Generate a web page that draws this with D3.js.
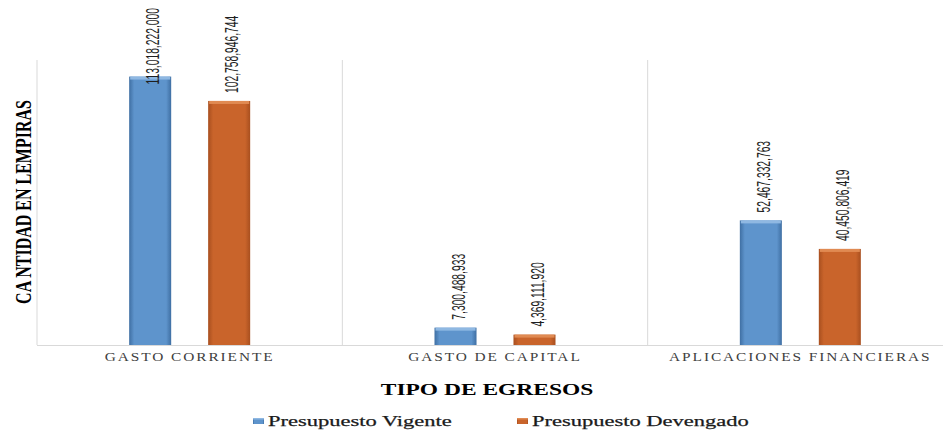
<!DOCTYPE html>
<html>
<head>
<meta charset="utf-8">
<script src="https://cdn.jsdelivr.net/npm/d3@7"></script>
<style>
  body { margin: 0; background: #fff; }
  svg { display: block; }
</style>
</head>
<body>
<script>
// data
let categories = ['GASTO CORRIENTE', 'GASTO DE CAPITAL', 'APLICACIONES FINANCIERAS']
let series = ['Presupuesto Vigente', 'Presupuesto Devengado']
let vigente = [113018222000, 7300488933, 52467332763]
let devengado = [102758946744, 4369111920, 40450806419]

let colors = {
  'Presupuesto Vigente': ['#3f6fa3', '#5e94cc', '#8fb8e2'],
  'Presupuesto Devengado': ['#a84f1f', '#c9642b', '#e08a52']
}

let width = 943, height = 432
let plotLeft = 37, plotBase = 345, plotTop = 60

let svg = d3.select('body').append('svg')
  .attr('width', width)
  .attr('height', height)

let defs = svg.append('defs')
series.forEach((s, i) => {
  let c = colors[s]
  let g = defs.append('linearGradient').attr('id', 'g' + i)
    .attr('x1', 0).attr('x2', 1).attr('y1', 0).attr('y2', 0)
  g.append('stop').attr('offset', '0%').attr('stop-color', c[0])
  g.append('stop').attr('offset', '12%').attr('stop-color', c[1])
  g.append('stop').attr('offset', '88%').attr('stop-color', c[1])
  g.append('stop').attr('offset', '100%').attr('stop-color', c[0])
})

let x0 = d3.scaleBand().domain(categories).range([plotLeft, 953])
let groupW = 121
let x1 = d3.scaleBand().domain(series)
  .range([(x0.bandwidth() - groupW) / 2, (x0.bandwidth() + groupW) / 2])
  .paddingInner(0.468)
let y = d3.scaleLinear().domain([0, 120e9]).range([plotBase, plotTop])

// stretch text horizontally to mimic the wide original
function widen(sel, k) {
  sel.each(function () {
    let w = this.getComputedTextLength()
    d3.select(this).attr('textLength', w * k).attr('lengthAdjust', 'spacingAndGlyphs')
  })
}

// category separators and axis
let seps = [plotLeft].concat(categories.slice(1).map(c => x0(c)))
svg.selectAll('.sep').data(seps).enter().append('line')
  .attr('x1', d => d).attr('x2', d => d)
  .attr('y1', plotTop).attr('y2', plotBase)
  .attr('stroke', '#d9d9d9').attr('stroke-width', 1)

svg.append('line')
  .attr('x1', plotLeft).attr('x2', width)
  .attr('y1', plotBase + 0.5).attr('y2', plotBase + 0.5)
  .attr('stroke', '#d9d9d9')

let rows = categories.map((c, i) => ({ cat: c, values: [vigente[i], devengado[i]] }))

let groups = svg.selectAll('.grp').data(rows).enter().append('g')
  .attr('transform', d => `translate(${x0(d.cat)},0)`)

let bars = groups.selectAll('.bar')
  .data(d => d.values.map((v, i) => ({ s: series[i], i: i, v: v })))
  .enter()

bars.append('rect')
  .attr('x', d => x1(d.s))
  .attr('y', d => y(d.v))
  .attr('width', x1.bandwidth())
  .attr('height', d => plotBase - y(d.v))
  .attr('fill', d => `url(#g${d.i})`)

bars.append('rect')
  .attr('x', d => x1(d.s) + 1)
  .attr('y', d => y(d.v))
  .attr('width', x1.bandwidth() - 2)
  .attr('height', 3)
  .attr('fill', d => colors[d.s][2])

// data labels, rotated
let fmt = d3.format(',')
bars.append('text')
  .text(d => fmt(d.v))
  .attr('font-family', 'Liberation Sans, Arial, sans-serif')
  .attr('font-size', 10.3)
  .attr('fill', '#1f1f1f')
  .attr('dominant-baseline', 'central')
  .attr('transform', function (d) {
    let len = this.getComputedTextLength()
    let start = y(d.v) - 8
    if (start - len < 8) start = 8 + len
    return `translate(${x1(d.s) + x1.bandwidth() / 2 + 3},${start}) rotate(-90) scale(1,1.75)`
  })

// category labels
svg.selectAll('.cat').data(categories).enter().append('text')
  .text(d => d)
  .attr('x', d => x0(d) + x0.bandwidth() / 2)
  .attr('y', 361)
  .attr('text-anchor', 'middle')
  .attr('font-family', 'Liberation Serif, serif')
  .attr('font-size', 12)
  .attr('letter-spacing', 1.5)
  .attr('fill', '#404040')
  .call(widen, 1.28)

// axis titles
svg.append('text')
  .text('TIPO DE EGRESOS')
  .attr('x', 487).attr('y', 395)
  .attr('text-anchor', 'middle')
  .attr('font-family', 'Liberation Serif, serif')
  .attr('font-weight', 'bold')
  .attr('font-size', 17)
  .attr('fill', '#000')
  .call(widen, 1.38)

svg.append('text')
  .text('CA NTIDAD EN LEMPIRAS')
  .attr('text-anchor', 'middle')
  .attr('dominant-baseline', 'central')
  .attr('font-family', 'Liberation Serif, serif')
  .attr('font-weight', 'bold')
  .attr('font-size', 16)
  .attr('fill', '#000')
  .attr('transform', 'translate(23,202) rotate(-90) scale(1,1.5)')

// legend
let legX = [253, 517]
let leg = svg.selectAll('.leg').data(series).enter().append('g')
  .attr('transform', (d, i) => `translate(${legX[i]},0)`)
leg.append('rect')
  .attr('x', 0).attr('y', 418)
  .attr('width', 11).attr('height', 6)
  .attr('fill', (d, i) => `url(#g${i})`)
leg.append('rect')
  .attr('x', 0).attr('y', 418)
  .attr('width', 11).attr('height', 1.5)
  .attr('fill', d => colors[d][2])
leg.append('text')
  .text(d => d)
  .attr('x', 15).attr('y', 426)
  .attr('font-family', 'Liberation Serif, serif')
  .attr('font-size', 15)
  .attr('fill', '#1a1a1a')
  .attr('stroke', '#1a1a1a')
  .attr('stroke-width', 0.25)
  .call(widen, 1.5)
</script>
</body>
</html>
